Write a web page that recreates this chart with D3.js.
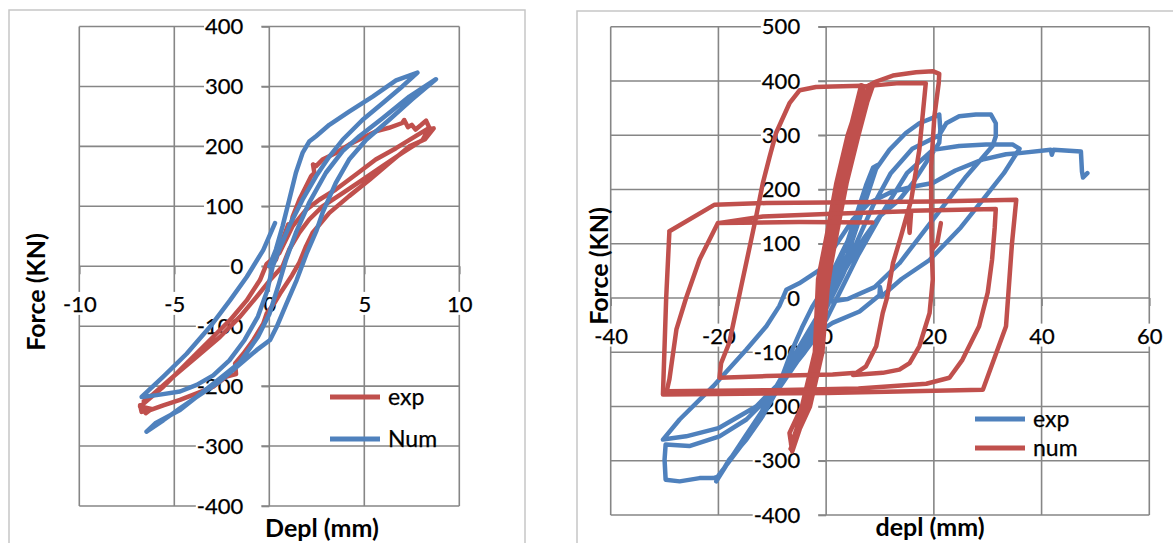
<!DOCTYPE html>
<html lang="en">
<head>
<meta charset="UTF-8">
<title>Force / deplacement</title>
<style>
  body { margin: 0; background: #fff; }
  svg text { font-family: Lato, "Liberation Sans", sans-serif; }
</style>
</head>
<body>
<script src="https://d3js.org/d3.v7.min.js"></script>
<script>
// ---- left chart data (Depl mm, Force kN) ----
const leftXTicks = [-10, -5, 0, 5, 10];
const leftYTicks = [-400, -300, -200, -100, 0, 100, 200, 300, 400];

const leftExp = [[0,0],[0.35,11],[0.7,44],[1.0,70],[1.1,62],[1.23,83],[1.58,111],[1.93,133],[2.2,150],[2.37,156],[2.3,170],[2.46,167],[2.8,178],[3.5,189],[4.2,203],[4.9,214],[5.6,225],[6.3,231],[7.0,239],[7.1,244],[7.3,232],[7.5,236],[7.7,228],[8.0,236],[8.25,243],[8.45,229],[8.65,230],
  [8.2,212],[7.37,200],[6.3,172],[5.26,144],[4.2,117],[3.16,89],[2.28,56],[1.93,33],[1.58,6],[1.2,-15],[0.56,-46],[0.3,-60],[-0.14,-79],[-0.32,-96],[-0.84,-123],[-1.37,-146],[-1.8,-162],[-1.75,-180],[-2.25,-184],[-2.95,-201],[-3.82,-212],[-4.7,-223],[-5.58,-232],[-6.28,-240],[-6.72,-243],[-6.8,-232],[-6.5,-245],[-6.2,-238],[-6.8,-234],
  [-5.58,-201],[-4.35,-162],[-3.12,-123],[-2.07,-90],[-1.19,-57],[-0.49,-23],[-0.14,4],[0.53,22],[1.23,67],[1.93,94],[2.63,111],[3.5,128],[4.56,153],[5.6,178],[6.67,197],[7.7,217],[8.42,231],
  [8.07,211],[7.0,189],[5.96,167],[4.9,144],[3.86,122],[2.8,100],[2.1,78],[1.58,56],[1.05,28],[0.7,0],[0.04,-23],[-0.67,-51],[-1.54,-84],[-2.6,-118],[-3.82,-151],[-5.05,-184],[-6.28,-218],[-6.6,-225]];

const leftNumA = [[0,0],[0.35,28],[0.7,67],[1.05,111],[1.4,156],[1.75,189],[2.1,208],[2.46,217],[3.16,236],[4.2,258],[5.44,283],[6.67,310],[7.8,323],
  [7.0,300],[5.96,272],[4.9,244],[3.86,211],[3.16,183],[2.46,150],[1.75,111],[1.05,67],[0.53,28],[0.18,0],
  [-0.1,-40],[-0.6,-84],[-1.3,-123],[-2.1,-157],[-2.95,-182],[-3.82,-198],[-4.7,-209],[-5.93,-215],[-6.72,-218],
  [-5.58,-184],[-4.35,-146],[-3.12,-101],[-2.07,-57],[-1.19,-18],[-0.32,27],[0.3,72]];

const leftNumB = [[-6.46,-276],[-5.58,-257],[-4.7,-237],[-3.82,-218],[-2.77,-196],[-1.72,-168],[-0.67,-140],[0.04,-123],[0.39,-101],[0.91,-62],[1.44,-23],[1.96,21],[2.49,60],[2.8,89],[3.5,139],[4.2,178],[5.1,211],[6.3,244],[7.5,278],[8.77,312],
  [7.37,283],[5.96,247],[4.74,217],[3.86,192],[2.98,156],[2.1,106],[1.4,56],[0.88,11],[0.5,-30],[0.0,-80],[-0.6,-118],[-1.54,-160],[-2.95,-196],[-4.7,-240],[-6.0,-262],[-6.46,-276]];

// ---- right chart data ----
const rightXTicks = [-40, -20, 0, 20, 40, 60];
const rightYTicks = [-400, -300, -200, -100, 0, 100, 200, 300, 400, 500];

const rightExp = [[0,0],[2,50],[4,105],[6,165],[7.5,210],[8.7,240],[9.5,245],
  [8,200],[6,140],[4,80],[2,30],[0,-15],[-2,-50],[-4,-85],[-6,-115],[-8,-140],
  [-6.5,-100],[-4.5,-55],[-2.5,-15],[0,25],[3,85],[5,125],[6.8,170],[8.7,230],[11.75,273],[14.8,304],[17.3,322],[19.8,332],[21,338],[21.2,310],[21,286],
  [18.5,249],[16.1,212],[13.6,181],[9.9,150],[7,110],[4,60],[1,10],[-2,-40],[-5,-90],[-8.5,-150],[-12,-210],[-15,-255],[-18,-300],[-20.4,-338],
  [-18,-298],[-14.8,-261],[-11.8,-218],[-8.7,-163],[-5.6,-114],[-2.5,-65],[0,-20],[3,40],[6,110],[8.7,170],[12,230],[16,275],[21,300],[22.3,322],[24.7,335],[27.8,338],[30.6,338],[31.5,322],[31.5,298],[30.9,280],
  [26,224],[19.8,144],[13.6,64],[9,20],[4,-2],[-0.6,-9],[-2.5,-52],[-5,-105],[-7.4,-138],[-11.1,-187],[-14.8,-224],[-19.8,-255],[-25.4,-273],[-29.8,-270],[-30,-298],[-29.8,-335],[-27.2,-338],[-23.5,-332],[-21,-332],[-20.2,-330],
  [-15,-262],[-10,-185],[-5,-112],[0,-40],[3,20],[6,80],[10,150],[15,230],[19.8,273],[24.7,280],[29.7,283],[34.6,283],[35.9,275],
  [33,230],[29,180],[25,130],[19.2,70],[14,35],[10.3,3],[10,20],[9.9,5],[6.2,-25],[1.2,-46],[-1,-60],[-4,-100],[-8,-150],[-13,-200],[-20,-240],[-26,-255],[-30.3,-261],
  [-27.2,-224],[-21,-163],[-14.8,-95],[-11.1,-52],[-8.7,-15],[-7.4,15],[-5,27],[-1.2,52],[1.2,89],[3,115],[5,145],[8,175],[12,195],[16,205],[19.8,212],[24,235],[29,255],[33.4,265],[35.9,267],[41.7,273],[41.9,264],[42.2,273],[47.3,270],[47.5,233],[47.7,222],[48.5,230]];

const rightNumElastic = [[0,0],[1.0,100],[2.6,212],[4.5,300],[7.0,390],
  [4,300],[1.9,212],[0.2,120],[-1.5,34],[-2.1,-100],[-4.5,-200],[-6.8,-249],
  [-6.3,-283],[-3.5,-200],[-1.0,-100],[0.2,34],[1.6,120],[3.3,212],[5.5,300],[8.3,390],
  [5,300],[2.6,212],[1,120],[-0.6,34],[-1.5,-100],[-4,-200],[-6.5,-270],
  [-3.8,-200],[-1.8,-100],[-0.9,34],[0.8,120],[2.2,212],[4.8,320],[6.5,392],
  [4.2,300],[2,200],[0.5,100],[-1,0],[-2,-100],[-4.2,-200],[-6.0,-260],
  [-3.2,-200],[-0.8,-100],[0,0],[1.5,100],[3,190],[5.5,300],[8.7,392],
  [6.8,360],[5.0,290],[3.0,200],[1.2,110],[-0.3,30],[-1.3,-100],[-3.6,-200],[-6.6,-278],
  [-3.0,-200],[-0.7,-100],[0.4,34],[2.0,120],[3.8,212],[6.0,300],[7.6,360],[8.0,392],
  [6.2,340],[4.3,260],[2.9,212],[1.3,120],[-0.2,34],[-1.2,-100],[-3.4,-200],[-6.2,-275]];
const rightNumP = [[7,390],[13.6,396],[18.5,396],[17.3,273],[15.8,181],[13.9,114],[12.4,64],[11.3,0],[10.5,-28],[9.3,-89],[7.4,-126],[5.6,-138],[1.2,-141],[-11.1,-144],[-19.8,-147],[-19.5,-120],[-18,-83],[-16.7,-22],[-15.8,20],[-14.5,80],[-13,150],[-11.75,212],[-10.5,260],[-9.3,304],[-6.8,359],[-4.9,383],[-1.9,389],[1.2,390],[6.8,391]];
const rightNumB = [[8,392],[9.3,399],[12.4,410],[16.7,416],[19.8,418],[21,413],[20.9,396],[20.1,335],[19.5,243],[19.5,150],[19.6,88],[19.8,34],[19.2,-28],[17.3,-89],[15.5,-120],[13.6,-132],[10.5,-138],[5,-142]];
const rightNumStub = [[19.7,90],[20.6,100],[21.3,138]];
const rightNumW2 = [[8.6,139],[-5,140],[-20.1,138],[-23.5,71],[-26,0],[-27.8,-58],[-29.1,-150],[-29.6,-172],[-10,-170],[6,-167],[18.6,-158],[22.9,-147],[25.3,-114],[28.4,-52],[30,10],[30.8,70],[31.3,130],[31.5,164],[15.8,161],[15.5,120],[15.2,160],[0,155],[-11.75,150],[-20.1,138]];
const rightNumW1 = [[-29.1,123],[-20.7,172],[-11.1,175],[0,176],[19.8,178],[35.3,181],[34.5,100],[33.4,-52],[29.1,-169],[0,-175],[-20,-177],[-30.3,-178],[-29.7,0],[-29.1,123]];

const RED = "#C0504D", BLUE = "#4F81BD";

const svg = d3.select("body").append("svg")
    .attr("width", 1173)
    .attr("height", 543);

function drawChart(c) {
    const x = d3.scaleLinear().domain(c.xDomain).range(c.xRange);
    const y = d3.scaleLinear().domain(c.yDomain).range(c.yRange);
    const g = svg.append("g");

    // chart frame
    g.append("rect")
        .attr("x", c.frame[0]).attr("y", c.frame[1])
        .attr("width", c.frame[2]).attr("height", c.frame[3])
        .attr("fill", "none").attr("stroke", "#c6c6c6").attr("stroke-width", 1.5);

    // gridlines
    g.append("g").selectAll("line").data(c.xTicks).join("line")
        .attr("x1", d => x(d)).attr("x2", d => x(d))
        .attr("y1", c.yRange[0]).attr("y2", c.yRange[1])
        .attr("stroke", "#868686").attr("stroke-width", 1.6);
    g.append("g").selectAll("line").data(c.yTicks).join("line")
        .attr("y1", d => y(d)).attr("y2", d => y(d))
        .attr("x1", c.xRange[0]).attr("x2", c.xRange[1])
        .attr("stroke", "#868686").attr("stroke-width", 1.6);

    // axes crossing at zero
    const yAxis = g.append("g")
        .attr("transform", "translate(" + x(0) + ",0)")
        .call(d3.axisLeft(y).tickValues(c.yTicks).tickSize(8).tickPadding(18).tickFormat(d => String(d)));
    const xAxis = g.append("g")
        .attr("transform", "translate(0," + y(0) + ")")
        .call(d3.axisBottom(x).tickValues(c.xTicks).tickSize(8).tickPadding(22).tickFormat(d => String(d)));

    [yAxis, xAxis].forEach(a => {
        a.select(".domain").remove();
        a.selectAll(".tick line").attr("stroke", "#868686").attr("stroke-width", 1.6);
        a.selectAll(".tick text").attr("font-size", 22).attr("fill", "#000")
            .attr("stroke", "#000").attr("stroke-width", 0.25)
            .style("font-family", "Lato, 'Liberation Sans', sans-serif");
    });
    // white label boxes (labels sit over the gridlines)
    yAxis.selectAll(".tick").each(function () {
        const b = d3.select(this).select("text").node().getBBox();
        d3.select(this).insert("rect", "text")
            .attr("x", b.x - 1).attr("y", b.y + 2)
            .attr("width", -8 - (b.x - 1)).attr("height", b.height - 4)
            .attr("fill", "#fff");
    });
    xAxis.selectAll(".tick").each(function () {
        const b = d3.select(this).select("text").node().getBBox();
        d3.select(this).insert("rect", "text")
            .attr("x", b.x - 1).attr("y", b.y + 2)
            .attr("width", b.width + 2).attr("height", b.height - 4)
            .attr("fill", "#fff");
    });

    // axis titles
    g.append("text")
        .attr("x", c.xTitle[0]).attr("y", c.xTitle[1])
        .attr("text-anchor", "middle").attr("font-size", 25).attr("font-weight", "bold")
        .text(c.xLabel);
    g.append("text")
        .attr("transform", "translate(" + c.yTitle[0] + "," + c.yTitle[1] + ") rotate(-90)")
        .attr("text-anchor", "middle").attr("font-size", 25).attr("font-weight", "bold")
        .text("Force (KN)");

    // series
    const line = d3.line().x(d => x(d[0])).y(d => y(d[1]));
    c.series.forEach(s => {
        s.parts.forEach(p => {
            g.append("path").datum(p)
                .attr("fill", "none").attr("stroke", s.color)
                .attr("stroke-width", 4.5)
                .attr("stroke-linejoin", "round").attr("stroke-linecap", "round")
                .attr("d", line);
        });
    });

    // legend
    c.series.forEach((s, i) => {
        const ly = c.legend[1] + i * c.legend[2];
        g.append("line")
            .attr("x1", c.legend[0]).attr("x2", c.legend[0] + 50)
            .attr("y1", ly).attr("y2", ly)
            .attr("stroke", s.color).attr("stroke-width", 5);
        g.append("text")
            .attr("x", c.legend[0] + 58).attr("y", ly + 8)
            .attr("font-size", 23).attr("stroke", "#000").attr("stroke-width", 0.25)
            .text(s.name);
    });
}

drawChart({
    frame: [9, 10, 516, 560],
    xDomain: [-10, 10], xRange: [79.3, 459.3],
    yDomain: [-400, 400], yRange: [506, 26.5],
    xTicks: leftXTicks, yTicks: leftYTicks,
    xLabel: "Depl (mm)", xTitle: [322, 537], yTitle: [45, 292],
    legend: [330, 397, 42],
    series: [
        {name: "exp", color: RED, parts: [leftExp]},
        {name: "Num", color: BLUE, parts: [leftNumA, leftNumB]}
    ]
});

drawChart({
    frame: [577, 11, 620, 560],
    xDomain: [-40, 60], xRange: [610.7, 1149.3],
    yDomain: [-400, 500], yRange: [515, 26.7],
    xTicks: rightXTicks, yTicks: rightYTicks,
    xLabel: "depl (mm)", xTitle: [930, 536], yTitle: [608, 266],
    legend: [975, 419, 29],
    series: [
        {name: "exp", color: BLUE, parts: [rightExp]},
        {name: "num", color: RED, parts: [rightNumElastic, rightNumP, rightNumB, rightNumStub, rightNumW2, rightNumW1]}
    ]
});
</script>
</body>
</html>
